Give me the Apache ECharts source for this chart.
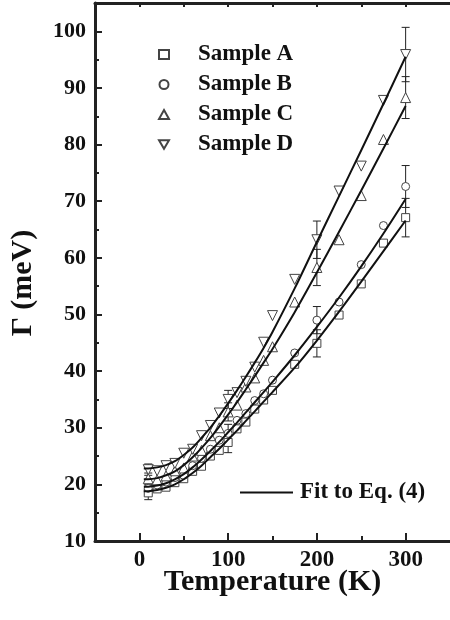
<!DOCTYPE html>
<html>
<head>
<meta charset="utf-8">
<script src="https://cdn.jsdelivr.net/npm/echarts@6/dist/echarts.min.js"></script>
<style>
html,body{margin:0;padding:0;background:#fff;}
#chart{width:450px;height:620px;}
</style>
</head>
<body>
<div id="chart"></div>
<script>
// ---- data ----
const temps = [10,20,30,40,50,60,70,80,90,100,110,120,130,140,150,175,200,225,250,275,300];
const sampleA = [18.5,19.2,19.5,20.3,21.0,22.3,23.2,25.0,26.0,27.4,29.8,31.0,33.3,34.9,36.6,41.2,44.9,49.9,55.4,62.6,67.1];
const sampleB = [19.3,19.9,20.4,21.2,21.6,23.3,24.6,26.2,27.8,29.0,31.3,32.5,34.8,36.0,38.4,43.2,49.0,52.2,58.8,65.7,72.6];
const sampleC = [21.0,20.8,21.5,22.4,22.9,25.0,26.0,28.6,30.0,32.8,34.0,37.2,38.8,41.9,44.3,52.2,58.3,63.2,71.0,80.9,88.3];
const sampleD = [22.6,22.4,23.3,23.7,25.5,26.2,28.6,30.4,32.6,35.0,36.2,38.2,40.7,45.1,49.8,56.2,63.2,71.8,76.2,87.8,95.9];

const errTemps = [10,100,200,300];
const errA = [1.2,1.8,2.4,3.4];
const errB = [1.0,1.6,2.4,3.7];
const errC = [1.0,1.6,3.2,3.7];
const errD = [1.0,1.6,3.3,4.8];

const fitTemps = [5,10,20,30,40,50,60,70,80,90,100,110,120,130,140,150,175,200,225,250,275,300];
const fitA = [18.8,18.8,19.0,19.4,20.0,20.9,22.0,23.3,24.8,26.3,27.9,29.5,31.2,32.9,34.6,36.3,40.6,45.4,50.5,55.8,61.2,66.6];
const fitB = [19.6,19.6,19.8,20.2,20.9,21.8,23.0,24.4,25.9,27.5,29.2,30.9,32.7,34.5,36.3,38.1,42.8,47.8,53.0,58.5,64.3,70.4];
const fitC = [20.9,20.9,21.1,21.6,22.3,23.4,24.8,26.4,28.2,30.2,32.3,34.5,36.8,39.1,41.5,43.9,50.4,57.4,64.6,71.9,79.3,86.8];
const fitD = [22.8,22.8,23.0,23.4,24.1,25.2,26.5,28.2,30.0,32.1,34.3,36.6,39.0,41.5,44.1,46.9,54.6,62.8,70.9,79.0,87.2,95.5];

const xMajor = [0,100,200,300];
const xMinor = [50,150,250];
const xTop = [0,50,100,150,200,250,300];

const seriesNames = ['Sample A','Sample B','Sample C','Sample D'];
const fitName = 'Fit to Eq. (4)';
const xTitle = 'Temperature (K)';
const yTitle = 'Γ (meV)';

// ---- build ----
const FONT = '"Liberation Serif","Times New Roman",serif';
const pair = (xs, ys) => xs.map((x, i) => [x, ys[i]]);
const errPts = (vals, errs) => errTemps.map((t, i) => {
  const v = vals[temps.indexOf(t)];
  return [t, v - errs[i], v + errs[i]];
});

const downTri = 'path://M0,0 L10,0 L5,8.66 Z';
const symbols = ['rect','circle','triangle',downTri];
const sizes = [8,8,10,10];
const samples = [sampleA,sampleB,sampleC,sampleD];
const errs = [errA,errB,errC,errD];
const fits = [fitA,fitB,fitC,fitD];

const series = [];
samples.forEach((s, k) => {
  series.push({
    type: 'custom',
    name: 'err' + k,
    xAxisIndex: 0, yAxisIndex: 0,
    data: errPts(s, errs[k]),
    z: 3,
    silent: true,
    renderItem: function (params, api) {
      const x = api.value(0);
      const lo = api.coord([x, api.value(1)]);
      const hi = api.coord([x, api.value(2)]);
      const w = 4;
      const st = { stroke: '#222', lineWidth: 1 };
      return { type: 'group', children: [
        { type: 'line', shape: { x1: lo[0], y1: lo[1], x2: hi[0], y2: hi[1] }, style: st },
        { type: 'line', shape: { x1: lo[0]-w, y1: lo[1], x2: lo[0]+w, y2: lo[1] }, style: st },
        { type: 'line', shape: { x1: hi[0]-w, y1: hi[1], x2: hi[0]+w, y2: hi[1] }, style: st }
      ]};
    }
  });
  series.push({
    type: 'scatter',
    name: seriesNames[k],
    xAxisIndex: 0, yAxisIndex: 0,
    data: pair(temps, s),
    symbol: symbols[k],
    symbolSize: sizes[k],
    itemStyle: { color: '#fff', borderColor: '#444', borderWidth: 1, opacity: 1 },
    z: 4
  });
});
fits.forEach((f) => {
  series.push({
    type: 'line',
    name: fitName,
    xAxisIndex: 0, yAxisIndex: 0,
    data: pair(fitTemps, f),
    smooth: 0.3,
    symbol: 'none',
    lineStyle: { color: '#111', width: 2 },
    itemStyle: { color: '#111' },
    z: 5
  });
});

const chart = echarts.init(document.getElementById('chart'), null, { renderer: 'canvas' });
chart.setOption({
  animation: false,
  backgroundColor: '#fff',
  grid: { left: 95, top: 3, right: -4, bottom: 79, containLabel: false },
  legend: [
    {
      data: seriesNames.map(n => ({ name: n })),
      orient: 'vertical',
      left: 153, top: 38,
      itemWidth: 10, itemHeight: 9,
      itemGap: 7,
      textStyle: { fontFamily: FONT, fontWeight: 'bold', fontSize: 23, color: '#111', padding: [0,0,0,24] },
      selectedMode: false
    },
    {
      data: [{ name: fitName, icon: 'rect', itemStyle: { color: '#111' } }],
      left: 235, top: 476,
      itemWidth: 53, itemHeight: 2,
      itemGap: 0,
      textStyle: { fontFamily: FONT, fontWeight: 'bold', fontSize: 23, color: '#111', padding: [0,0,0,2] },
      selectedMode: false
    }
  ],
  xAxis: [
    {
      type: 'value', position: 'bottom', min: -50, max: 350, interval: 50,
      name: xTitle, nameLocation: 'middle', nameGap: 26, nameMoveOverlap: false,
      nameTextStyle: { fontFamily: FONT, fontWeight: 'bold', fontSize: 30, color: '#111' },
      axisLine: { show: true, onZero: false, lineStyle: { color: '#222', width: 3 } },
      axisTick: { show: true, inside: true, length: 8, customValues: xMajor, lineStyle: { color: '#222', width: 2 } },
      axisLabel: { show: true, customValues: xMajor, margin: 8, fontFamily: FONT, fontWeight: 'bold', fontSize: 23, color: '#111' },
      splitLine: { show: false }
    },
    {
      type: 'value', position: 'bottom', min: -50, max: 350, interval: 50,
      axisLine: { show: false, onZero: false },
      axisTick: { show: true, inside: true, length: 5, customValues: xMinor, lineStyle: { color: '#222', width: 2 } },
      axisLabel: { show: false },
      splitLine: { show: false }
    },
    {
      type: 'value', position: 'top', min: -50, max: 350, interval: 50,
      axisLine: { show: true, onZero: false, lineStyle: { color: '#222', width: 3 } },
      axisTick: { show: true, inside: true, length: 4, customValues: xTop, lineStyle: { color: '#222', width: 2 } },
      axisLabel: { show: false },
      splitLine: { show: false }
    }
  ],
  yAxis: [
    {
      type: 'value', min: 10, max: 105, interval: 10,
      name: yTitle, nameLocation: 'middle', nameGap: 57, nameMoveOverlap: false,
      nameTextStyle: { fontFamily: FONT, fontWeight: 'bold', fontSize: 30, color: '#111', padding: [0,22,0,0] },
      axisLine: { show: true, onZero: false, lineStyle: { color: '#222', width: 3 } },
      axisTick: { show: true, inside: true, length: 7, lineStyle: { color: '#222', width: 2 } },
      minorTick: { show: true, splitNumber: 2, length: 4, lineStyle: { color: '#222', width: 2 } },
      axisLabel: { margin: 9, fontFamily: FONT, fontWeight: 'bold', fontSize: 22, color: '#111',
        formatter: v => (v > 100 ? '' : String(v)) },
      splitLine: { show: false },
      minorSplitLine: { show: false }
    }
  ],
  series: series
});
</script>
</body>
</html>
